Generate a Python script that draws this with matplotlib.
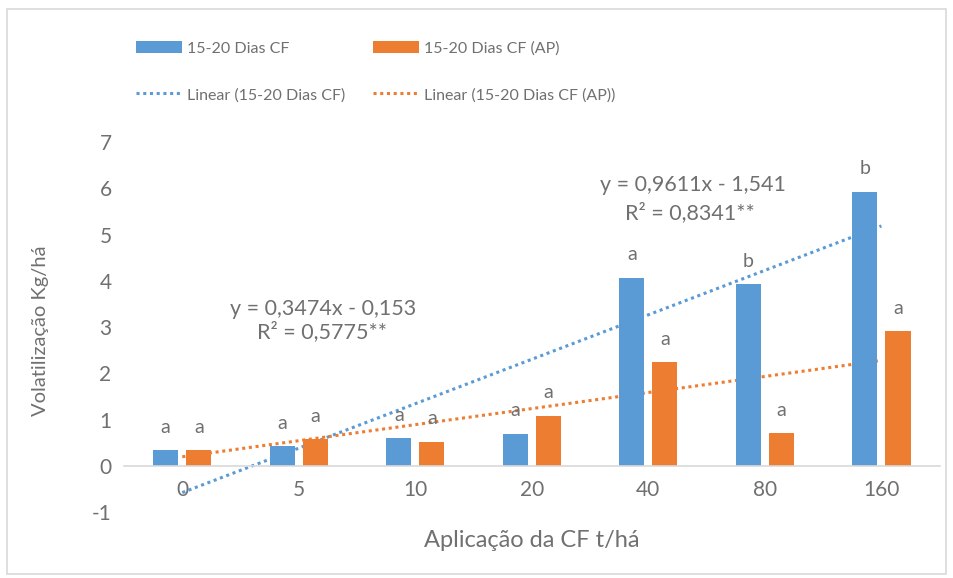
import matplotlib
matplotlib.use("Agg")
import matplotlib.pyplot as plt
import numpy as np
from matplotlib.patches import Rectangle

plt.rcParams["font.family"] = ["Lato", "DejaVu Sans"]
plt.rcParams["axes.unicode_minus"] = False

doses = ["0", "5", "10", "20", "40", "80", "160"]
cf = [0.34, 0.43, 0.60, 0.69, 4.07, 3.92, 5.93]
cf_ap = [0.33, 0.58, 0.52, 1.08, 2.24, 0.71, 2.91]
letters_cf = ["a", "a", "a", "a", "a", "b", "b"]
letters_ap = ["a", "a", "a", "a", "a", "a", "a"]

# linear trendlines (x = 1..7 as in the spreadsheet)
fit_cf = (0.9611, -1.541)
fit_ap = (0.3474, -0.153)

blue = "#5B9BD5"
orange = "#ED7D31"
grey = "#707070"

fig = plt.figure(figsize=(9.54, 5.78), dpi=100)
ax = fig.add_axes([0.130, 0.1142, 0.855, 0.640])

x = np.arange(len(doses))
w = 0.215
off = 0.142

xs = np.arange(1, len(doses) + 1)
l_cf, = ax.plot(x, fit_cf[0] * xs + fit_cf[1], color=blue, ls=(0, (1, 1.2)), lw=2.2, zorder=1)
l_ap, = ax.plot(x, fit_ap[0] * xs + fit_ap[1], color=orange, ls=(0, (1, 1.2)), lw=2.2, zorder=1)

b_cf = ax.bar(x - off, cf, w, color=blue, zorder=2)
b_ap = ax.bar(x + off, cf_ap, w, color=orange, zorder=2)

for xi, v, t in zip(x, cf, letters_cf):
    ax.annotate(t, (xi - off, v), xytext=(0, 12.5), textcoords="offset points",
                ha="center", va="baseline", fontsize=14, color=grey)
for xi, v, t in zip(x, cf_ap, letters_ap):
    ax.annotate(t, (xi + off, v), xytext=(0, 12.5), textcoords="offset points",
                ha="center", va="baseline", fontsize=14, color=grey)

eq_kw = dict(ha="center", va="center", fontsize=15.5, color=grey)
ax.text(1.21, 3.38, "y = 0,3474x - 0,153", **eq_kw)
ax.text(1.20, 2.89, "R² = 0,5775**", **eq_kw)
ax.text(4.38, 6.08, "y = 0,9611x - 1,541", **eq_kw)
ax.text(4.36, 5.47, "R² = 0,8341**", **eq_kw)

ax.set_xlim(-0.5, 6.5)
ax.set_ylim(-1, 7)
ax.set_yticks(range(-1, 8))
ax.set_xticks(x)
ax.set_xticklabels(doses)
for s in ["top", "right", "left"]:
    ax.spines[s].set_visible(False)
ax.spines["bottom"].set_position(("data", 0))
ax.spines["bottom"].set_color("#d9d9d9")
ax.spines["bottom"].set_linewidth(1.2)
ax.tick_params(axis="both", length=0, labelsize=15, labelcolor=grey)
ax.tick_params(axis="x", pad=10)
ax.tick_params(axis="y", pad=9)

ax.set_xlabel("Aplicação da CF t/há", fontsize=17, color=grey)
ax.set_ylabel("Volatilização Kg/há", fontsize=14.5, color=grey)
ax.xaxis.set_label_coords(0.5, -0.048)
ax.yaxis.set_label_coords(-0.092, 0.489)

fig.legend([b_cf, l_cf, b_ap, l_ap],
           ["15-20 Dias CF", "Linear (15-20 Dias CF)", "15-20 Dias CF (AP)", "Linear (15-20 Dias CF (AP))"],
           ncol=2, loc="upper left", bbox_to_anchor=(136 / 954, 1 - 41 / 578), frameon=False,
           borderpad=0, borderaxespad=0,
           fontsize=11.5, labelcolor=grey, handlelength=2.9, handleheight=0.8,
           handletextpad=0.3, columnspacing=1.7, labelspacing=2.0)

fig.patches.append(Rectangle((7 / 954, 4 / 578), 939 / 954, 565 / 578, transform=fig.transFigure,
                             fill=False, edgecolor="#d9d9d9", lw=1.2))

fig.savefig("out.png", dpi=100)
